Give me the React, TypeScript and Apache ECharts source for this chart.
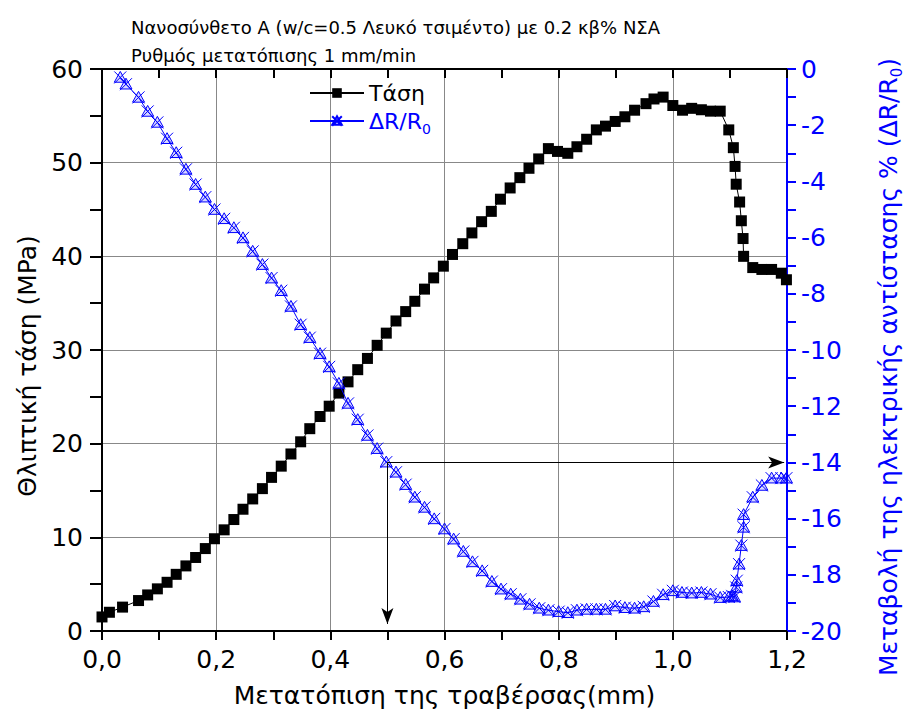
import React, { useEffect, useRef } from "react";
import * as echarts from "echarts";

// Crosshead displacement (mm) and compressive stress (MPa)
const stressX = [0.000,0.013,0.036,0.064,0.080,0.097,0.114,0.130,0.147,0.164,0.181,0.197,0.214,0.231,0.247,0.264,0.281,0.297,0.314,0.331,0.348,0.364,0.382,0.398,0.415,0.431,0.448,0.465,0.482,0.498,0.515,0.532,0.548,0.565,0.581,0.598,0.614,0.632,0.648,0.665,0.682,0.698,0.715,0.732,0.748,0.765,0.782,0.798,0.816,0.832,0.849,0.866,0.882,0.899,0.916,0.933,0.953,0.967,0.983,1.000,1.017,1.033,1.050,1.066,1.083,1.098,1.106,1.109,1.111,1.117,1.120,1.123,1.124,1.140,1.156,1.173,1.190,1.199];
const stress = [1.5,2.0,2.55,3.25,3.85,4.5,5.2,6.05,6.95,7.85,8.8,9.85,10.8,11.9,13.0,14.1,15.2,16.4,17.6,18.9,20.2,21.6,22.9,24.0,25.4,26.6,27.9,29.1,30.5,31.8,33.1,34.1,35.2,36.5,37.7,38.95,40.2,41.35,42.5,43.7,44.8,46.1,47.3,48.4,49.4,50.4,51.5,51.2,51.0,51.7,52.5,53.5,53.9,54.4,54.9,55.6,56.3,56.8,57.0,56.1,55.6,55.8,55.65,55.5,55.5,53.5,51.6,49.6,47.7,45.8,43.8,41.9,40.0,38.8,38.6,38.6,38.2,37.5];

// Displacement (mm) and fractional change of electrical resistance (%)
const resX = [0.032,0.042,0.064,0.080,0.097,0.114,0.130,0.147,0.164,0.181,0.197,0.214,0.231,0.247,0.264,0.281,0.297,0.314,0.331,0.348,0.364,0.382,0.398,0.415,0.431,0.448,0.465,0.482,0.498,0.515,0.532,0.548,0.565,0.582,0.600,0.616,0.633,0.649,0.666,0.683,0.699,0.716,0.733,0.749,0.766,0.782,0.800,0.816,0.832,0.849,0.866,0.882,0.899,0.916,0.933,0.949,0.966,0.983,1.000,1.016,1.033,1.050,1.066,1.083,1.098,1.104,1.108,1.111,1.112,1.116,1.120,1.124,1.124,1.140,1.156,1.173,1.190,1.199];
const resistance = [-0.30,-0.54,-1.01,-1.51,-1.90,-2.48,-2.98,-3.57,-4.11,-4.56,-5.0,-5.33,-5.65,-6.01,-6.49,-6.96,-7.44,-7.89,-8.45,-9.1,-9.56,-10.13,-10.6,-11.19,-11.9,-12.48,-13.04,-13.51,-13.99,-14.35,-14.79,-15.24,-15.6,-16.01,-16.37,-16.73,-17.17,-17.54,-17.86,-18.24,-18.51,-18.69,-18.87,-19.05,-19.19,-19.26,-19.31,-19.35,-19.26,-19.23,-19.23,-19.23,-19.11,-19.17,-19.19,-19.14,-18.95,-18.71,-18.57,-18.63,-18.65,-18.63,-18.69,-18.81,-18.79,-18.75,-18.79,-18.45,-18.21,-17.62,-16.96,-16.31,-15.86,-15.24,-14.82,-14.56,-14.56,-14.56];

// Reference point marked by the arrows
const markX = 0.5;
const markRes = -14;

const titleLines = [
  "Νανοσύνθετο A (w/c=0.5 Λευκό τσιμέντο) με 0.2 κβ% ΝΣΑ",
  "Ρυθμός μετατόπισης 1 mm/min",
];

const FONT = "DejaVu Sans, Verdana, sans-serif";
const BLUE = "#0000ff";

// Triangle with a cross through it, stroked only
const crossTriangle = "path://M5 0 L10 9 L0 9 Z M0 0 L10 10 M10 0 L0 10";

export default function App() {
  const ref = useRef<HTMLDivElement>(null);

  useEffect(() => {
    if (!ref.current) return;
    const chart = echarts.init(ref.current, null, { renderer: "svg" });

    const stressData = stressX.map((x, i) => [x, stress[i]]);
    const resData = resX.map((x, i) => [x, resistance[i]]);

    chart.setOption({
      animation: false,
      backgroundColor: "#fff",
      textStyle: { fontFamily: FONT },
      title: {
        text: titleLines.join("\n"),
        left: 126,
        top: 8,
        textStyle: { fontFamily: FONT, fontSize: 18, fontWeight: "normal", color: "#000", lineHeight: 28 },
      },
      legend: {
        orient: "vertical",
        left: 304,
        top: 77,
        itemWidth: 54,
        itemHeight: 12,
        itemGap: 6,
        data: [{ name: "Τάση" }, { name: "ΔR/R0" }],
        formatter: (name: string) =>
          name === "Τάση" ? "{k|Τάση}" : "{b|ΔR/R}{s|0}",
        textStyle: {
          fontFamily: FONT,
          fontSize: 22,
          rich: {
            k: { fontFamily: FONT, fontSize: 22, color: "#000" },
            b: { fontFamily: FONT, fontSize: 22, color: BLUE },
            s: { fontFamily: FONT, fontSize: 14, color: BLUE, padding: [16, 0, 0, 0] },
          },
        },
      },
      grid: { left: 102, right: 114, top: 69, bottom: 88, containLabel: false },
      xAxis: [
        {
          type: "value",
          min: 0,
          max: 1.2,
          interval: 0.2,
          position: "bottom",
          name: "Μετατόπιση της τραβέρσας(mm)",
          nameLocation: "middle",
          nameGap: 52,
          nameTextStyle: { fontFamily: FONT, fontSize: 25, color: "#000" },
          axisLine: { show: true, onZero: false, lineStyle: { color: "#000", width: 2 } },
          axisTick: { show: true, inside: false, length: 9, lineStyle: { color: "#000", width: 2 } },
          minorTick: { show: true, splitNumber: 2, length: 9, lineStyle: { color: "#000", width: 2 } },
          axisLabel: {
            fontFamily: FONT,
            fontSize: 25,
            color: "#000",
            margin: 16,
            formatter: (v: number) => v.toFixed(1).replace(".", ","),
          },
          splitLine: { show: true, lineStyle: { color: "#888", width: 1 } },
        },
        {
          type: "value",
          min: 0,
          max: 1.2,
          interval: 0.2,
          position: "top",
          axisLine: { show: true, onZero: false, lineStyle: { color: "#000", width: 2 } },
          axisTick: { show: true, inside: true, length: 9, lineStyle: { color: "#000", width: 2 } },
          minorTick: { show: true, splitNumber: 2, length: 9, lineStyle: { color: "#000", width: 2 } },
          axisLabel: { show: false },
          splitLine: { show: false },
        },
      ],
      yAxis: [
        {
          type: "value",
          min: 0,
          max: 60,
          interval: 10,
          position: "left",
          name: "Θλιπτική τάση (MPa)",
          nameLocation: "middle",
          nameGap: 62,
          nameTextStyle: { fontFamily: FONT, fontSize: 25, color: "#000", padding: [0, 32, 0, 0] },
          axisLine: { show: true, onZero: false, lineStyle: { color: "#000", width: 2 } },
          axisTick: { show: true, inside: false, length: 12, lineStyle: { color: "#000", width: 2 } },
          minorTick: { show: true, splitNumber: 2, length: 12, lineStyle: { color: "#000", width: 2 } },
          axisLabel: { fontFamily: FONT, fontSize: 25, color: "#000", margin: 19 },
          splitLine: { show: true, lineStyle: { color: "#888", width: 1 } },
        },
        {
          type: "value",
          min: -20,
          max: 0,
          interval: 2,
          position: "right",
          name: "{a|Μεταβολή της ηλεκτρικής αντίστασης % (ΔR/R}{s|0}{a|)}",
          nameLocation: "middle",
          nameGap: 86,
          nameTextStyle: {
            fontFamily: FONT,
            fontSize: 25,
            color: BLUE,
            padding: [0, 34, 0, 0],
            rich: {
              a: { fontFamily: FONT, fontSize: 25, color: BLUE },
              s: { fontFamily: FONT, fontSize: 15, color: BLUE, padding: [16, 0, 0, 0] },
            },
          },
          axisLine: { show: true, onZero: false, lineStyle: { color: BLUE, width: 2 } },
          axisTick: { show: true, inside: false, length: 9, lineStyle: { color: BLUE, width: 2 } },
          minorTick: { show: true, splitNumber: 2, length: 9, lineStyle: { color: BLUE, width: 2 } },
          axisLabel: { fontFamily: FONT, fontSize: 25, color: BLUE, margin: 14 },
          splitLine: { show: false },
        },
      ],
      series: [
        {
          name: "Τάση",
          type: "line",
          xAxisIndex: 0,
          yAxisIndex: 0,
          data: stressData,
          symbol: "rect",
          symbolSize: 11,
          showAllSymbol: true,
          itemStyle: { color: "#000" },
          lineStyle: { color: "#000", width: 1 },
          z: 3,
        },
        {
          name: "ΔR/R0",
          type: "line",
          xAxisIndex: 0,
          yAxisIndex: 1,
          data: resData,
          symbol: crossTriangle,
          symbolSize: 12,
          showAllSymbol: true,
          itemStyle: { color: "rgba(0,0,255,0.15)", borderColor: BLUE, borderWidth: 1 },
          lineStyle: { color: BLUE, width: 1 },
          z: 4,
          markLine: {
            silent: true,
            symbol: ["none", "arrow"],
            symbolSize: [9, 16],
            label: { show: false },
            lineStyle: { color: "#000", width: 1, type: "solid" },
            data: [
              [{ coord: [markX, markRes] }, { coord: [markX, -19.75] }],
              [{ coord: [markX, markRes] }, { coord: [1.195, markRes] }],
            ],
          },
        },
      ],
    });

    return () => chart.dispose();
  }, []);

  return (
    <div
      ref={ref}
      style={{ position: "fixed", left: 0, top: 0, width: 912, height: 719 }}
    />
  );
}
